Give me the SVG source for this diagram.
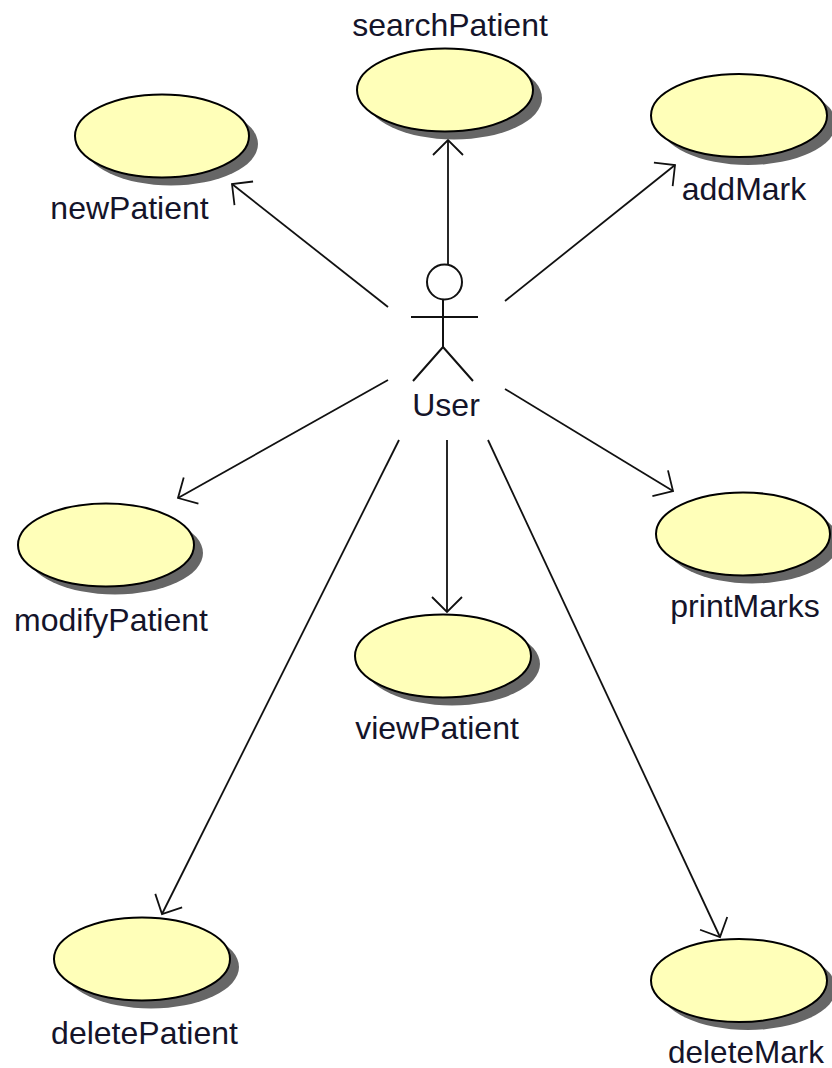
<svg xmlns="http://www.w3.org/2000/svg" width="832" height="1068" viewBox="0 0 832 1068">
<style>
.s{fill:#666}
.u{fill:#ffffb9;stroke:#000;stroke-width:2}
text{font-family:"Liberation Sans",Arial,sans-serif;font-size:32px;fill:#14142a;text-anchor:middle;stroke:none}
.c path{fill:none;stroke:#111;stroke-width:1.8}
.a path,.a circle{fill:none;stroke:#111;stroke-width:2}
</style>
<defs><marker id="m" viewBox="-17 -17 19 34" refX="0" refY="0" markerWidth="19" markerHeight="34" markerUnits="userSpaceOnUse" orient="auto"><path d="M-15 -15L0 0L-15 15" fill="none" stroke="#111" stroke-width="1.8"/></marker></defs>
<rect width="832" height="1068" fill="#fff"/>
<g id="connectors" class="c">
<path d="M448 264V140" marker-end="url(#m)"/>
<path d="M388 307L232 184" marker-end="url(#m)"/>
<path d="M505 301L675 165" marker-end="url(#m)"/>
<path d="M388 380L178 498" marker-end="url(#m)"/>
<path d="M505 389L673 491" marker-end="url(#m)"/>
<path d="M447 440V612" marker-end="url(#m)"/>
<path d="M399 440L162 914" marker-end="url(#m)"/>
<path d="M488 440L720 937" marker-end="url(#m)"/>
</g>
<g id="user" class="a"><circle cx="444.500" cy="282" r="17.500"/><path d="M443 299V347M411 317H478M443 347L413 381M443 347L473 381"/><text x="446" y="416">User</text></g>
<g id="searchPatient"><ellipse class="s" cx="454" cy="98" rx="88" ry="41.500"/><ellipse class="u" cx="445" cy="90" rx="88" ry="41.500"/><text x="450" y="36">searchPatient</text></g>
<g id="newPatient"><ellipse class="s" cx="171" cy="144" rx="87" ry="41.500"/><ellipse class="u" cx="162" cy="136" rx="87" ry="41.500"/><text x="129.500" y="219">newPatient</text></g>
<g id="addMark"><ellipse class="s" cx="748" cy="123.500" rx="88" ry="41.500"/><ellipse class="u" cx="739" cy="115.500" rx="88" ry="41.500"/><text x="744" y="200">addMark</text></g>
<g id="modifyPatient"><ellipse class="s" cx="115" cy="553" rx="88" ry="41.500"/><ellipse class="u" cx="106" cy="545" rx="88" ry="41.500"/><text x="111" y="631">modifyPatient</text></g>
<g id="viewPatient"><ellipse class="s" cx="452" cy="664" rx="88" ry="41.500"/><ellipse class="u" cx="443" cy="656" rx="88" ry="41.500"/><text x="437" y="739">viewPatient</text></g>
<g id="printMarks"><ellipse class="s" cx="752" cy="542" rx="87" ry="41.500"/><ellipse class="u" cx="743" cy="534" rx="87" ry="41.500"/><text x="745" y="617">printMarks</text></g>
<g id="deletePatient"><ellipse class="s" cx="151" cy="967" rx="88" ry="41.500"/><ellipse class="u" cx="142" cy="959" rx="88" ry="41.500"/><text x="144.500" y="1044">deletePatient</text></g>
<g id="deleteMark"><ellipse class="s" cx="748" cy="988.500" rx="88" ry="41.500"/><ellipse class="u" cx="739" cy="980.500" rx="88" ry="41.500"/><text x="746" y="1063" style="font-size:31.500px">deleteMark</text></g>
</svg>
